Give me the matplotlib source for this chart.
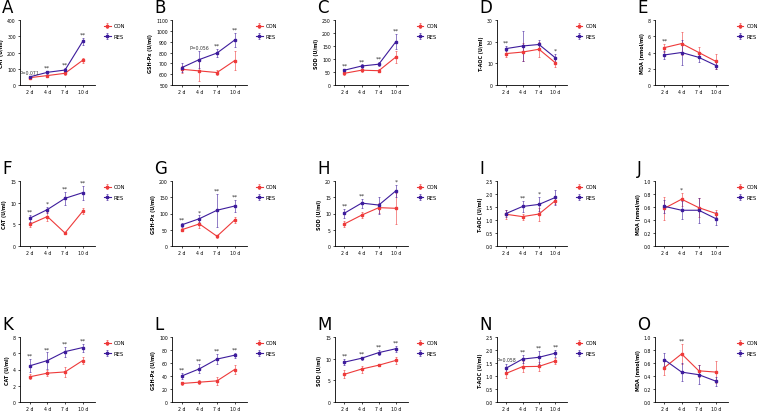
import matplotlib
matplotlib.use("Agg")
import matplotlib.pyplot as plt
import numpy as np

days = ["2 d", "4 d", "7 d", "10 d"]
letters = ["A", "B", "C", "D", "E", "F", "G", "H", "I", "J", "K", "L", "M", "N", "O"]
ylabels = ["CAT (U/ml)", "GSH-Px (U/ml)", "SOD (U/ml)", "T-AOC (U/ml)", "MDA (nmol/ml)"] * 3

con_mean = [
    [45, 58, 72, 152], [645, 630, 615, 725], [45, 57, 55, 108], [14.5, 15.2, 16.5, 10.2], [4.6, 5.1, 4.0, 2.9],
    [5.0, 6.8, 3.0, 8.0], [50, 68, 30, 80], [6.8, 9.5, 11.8, 11.6], [1.22, 1.13, 1.23, 1.75], [0.58, 0.72, 0.59, 0.50],
    [3.1, 3.55, 3.7, 5.1], [28.5, 30.5, 32.5, 50], [6.4, 7.6, 8.5, 9.6], [1.1, 1.36, 1.37, 1.58], [0.53, 0.74, 0.48, 0.46],
]
con_err = [
    [5, 5, 8, 15], [30, 95, 20, 85], [5, 6, 5, 22], [1.5, 4, 3.5, 1.8], [0.5, 1.4, 0.7, 0.9],
    [0.6, 1.1, 0.3, 0.7], [5, 12, 5, 8], [0.8, 0.9, 1.5, 4.7], [0.18, 0.12, 0.25, 0.15], [0.18, 0.1, 0.15, 0.06],
    [0.3, 0.4, 0.6, 0.4], [2, 3, 6, 7], [0.9, 0.8, 0.3, 0.8], [0.18, 0.2, 0.18, 0.1], [0.11, 0.15, 0.09, 0.17],
]
res_mean = [
    [50, 78, 92, 268], [660, 735, 795, 915], [57, 73, 80, 167], [16.8, 18, 18.7, 12.5], [3.7, 4.0, 3.4, 2.4],
    [6.4, 8.4, 11.0, 12.3], [65, 84, 110, 123], [10.1, 13.2, 12.6, 17.0], [1.25, 1.52, 1.60, 1.87], [0.61, 0.55, 0.55, 0.42],
    [4.45, 5.1, 6.2, 6.7], [40, 51, 66, 72], [9.2, 10.1, 11.4, 12.3], [1.3, 1.65, 1.72, 1.88], [0.65, 0.46, 0.42, 0.32],
]
res_err = [
    [5, 8, 10, 20], [40, 75, 40, 65], [5, 6, 8, 28], [1, 7, 2, 2], [0.5, 1.5, 0.6, 0.4],
    [0.8, 0.7, 1.5, 1.6], [7, 10, 50, 18], [1.4, 1.4, 2.6, 1.8], [0.12, 0.2, 0.27, 0.28], [0.1, 0.14, 0.19, 0.1],
    [0.8, 1.0, 0.6, 0.5], [5, 7, 8, 4], [0.7, 0.3, 0.5, 0.7], [0.17, 0.15, 0.25, 0.13], [0.1, 0.14, 0.15, 0.07],
]
signif = [
    ["P=0.071", "**", "**", "**"], ["", "P=0.056", "**", "**"], ["**", "**", "**", "**"], ["**", "", "", "*"], ["**", "", "", ""],
    ["**", "*", "**", "**"], ["**", "*", "**", "**"], ["**", "**", "", "*"], ["", "**", "*", ""], ["", "*", "", ""],
    ["**", "**", "**", "**"], ["**", "**", "**", "**"], ["**", "**", "**", "**"], ["P=0.058", "**", "**", "**"], ["", "**", "", ""],
]
ylims = [
    (0, 400, 100), (500, 1100, 100), (0, 250, 50), (0, 30, 10), (0, 8, 2),
    (0, 15, 5), (0, 200, 50), (0, 20, 5), (0, 2.5, 0.5), (0, 1.0, 0.2),
    (0, 8, 2), (0, 100, 20), (0, 15, 5), (0, 2.5, 0.5), (0, 1.0, 0.2),
]

con_color = "#ee3a3a"
res_color = "#3d1c9c"

W, H = 759, 414
fig = plt.figure(figsize=(W / 100, H / 100), dpi=100)

col_left = [20, 172, 335, 497, 655]
col_w = [75, 75, 73, 70, 73]
row_top = [21, 182, 338]
ax_h = 65

x = np.arange(len(days))
for i in range(15):
    r, c = divmod(i, 5)
    left = col_left[c] / W
    bottom = 1 - (row_top[r] + ax_h) / H
    ax = fig.add_axes([left, bottom, col_w[c] / W, ax_h / H])

    ax.errorbar(x, con_mean[i], yerr=con_err[i], color=con_color, marker="s", ms=2,
                lw=0.8, elinewidth=0.4, capsize=1, capthick=0.4, label="CON")
    ax.errorbar(x, res_mean[i], yerr=res_err[i], color=res_color, marker="s", ms=2,
                lw=0.8, elinewidth=0.4, capsize=1, capthick=0.4, label="RES")

    lo, hi, step = ylims[i]
    ax.set_ylim(lo, hi)
    yt = np.arange(lo, hi + step / 2, step)
    ax.set_yticks(yt)
    if step < 1:
        ax.set_yticklabels(["%.1f" % v for v in yt])
    else:
        ax.set_yticklabels(["%d" % v for v in yt])
    ax.set_xlim(-0.55, 3.7)
    ax.set_xticks(x)
    ax.set_xticklabels(days)
    ax.tick_params(labelsize=3.3, length=1.5, width=0.5, pad=1.5)
    for s in ["top", "right"]:
        ax.spines[s].set_visible(False)
    for s in ["left", "bottom"]:
        ax.spines[s].set_linewidth(0.6)
    ax.set_ylabel(ylabels[i], fontsize=3.5, fontweight="bold", labelpad=2)

    # significance marks above the higher error bar
    for j, txt in enumerate(signif[i]):
        if not txt:
            continue
        top = max(con_mean[i][j] + con_err[i][j], res_mean[i][j] + res_err[i][j])
        ax.annotate(txt, (x[j], top), xytext=(0, 1), textcoords="offset points",
                    ha="center", va="bottom", fontsize=3.3 if txt.startswith("P") else 4.5,
                    color="#333333")

    ax.legend(loc="upper left", bbox_to_anchor=(1.06, 1.02), frameon=False, fontsize=3.8,
              handlelength=1.2, handletextpad=0.6, labelspacing=1.0)

    # panel letter in figure pixels
    fig.text((col_left[c] - 18) / W, 1 - (row_top[r] - 4) / H, letters[i],
             fontsize=12, ha="left", va="bottom")

fig.savefig("out.png", dpi=100)
